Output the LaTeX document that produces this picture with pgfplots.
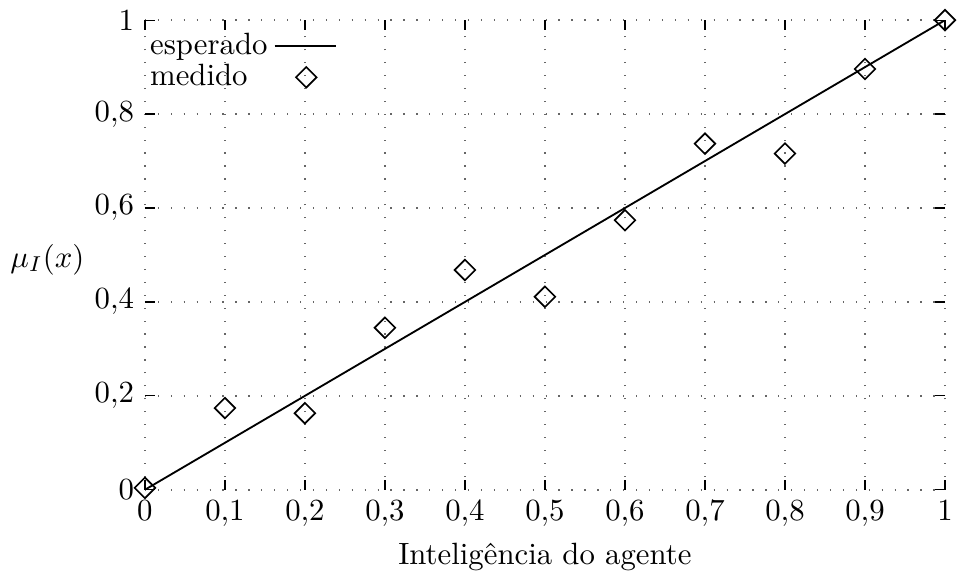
\documentclass[border=0pt]{standalone}
\usepackage{pgfplots}
\pgfplotsset{compat=1.18}
\begin{document}
\begin{tikzpicture}
\begin{axis}[
  scale only axis,
  width=260pt, height=152.6pt,
  xmin=0, xmax=1, ymin=0, ymax=1,
  xtick={0,0.1,...,1.01},
  ytick={0,0.2,...,1.01},
  /pgf/number format/use comma,
  xticklabel style={inner xsep=1.4pt, /pgf/number format/.cd,fixed,precision=1},
  yticklabel style={/pgf/number format/.cd,fixed,precision=1},
  separate axis lines,
  axis line style={draw=none},
  tick align=inside,
  major tick length=3.2pt,
  tick style={black, line width=0.4pt},
  grid=major,
  grid style={black!60, line width=0.5pt, dash pattern=on 0.4pt off 3.8pt},
  xlabel={Inteligência do agente},
  xlabel style={yshift=1.4pt},
  ylabel={$\mu_I(x)$},
  ylabel style={rotate=-90, at={(axis description cs:-0.062,0.49)}, anchor=east},
  legend plot pos=right,
  legend cell align=left,
  legend style={draw=none, fill=none, at={(0.0,1.0)}, xshift=-1.5pt, yshift=-1pt, anchor=north west, row sep=-2.3pt, inner sep=1pt},
]
\addplot[black, line width=0.6pt, legend image code/.code={\draw[black,line width=0.6pt] (-3.3pt,0pt) -- (16.7pt,0pt);}] coordinates {(0,0) (1,1)};
\addlegendentry{esperado}
\addplot[only marks, mark=square, mark size=2.36pt, mark options={rotate=45, black, line width=0.55pt, fill=none}, legend image code/.code={\draw[mark=square, mark size=2.36pt, mark options={rotate=45, line width=0.55pt}] plot coordinates {(7pt,0pt)};}] coordinates {
(0,0.004) (0.1,0.174) (0.2,0.163) (0.3,0.345) (0.4,0.468) (0.5,0.411)
(0.6,0.574) (0.7,0.737) (0.8,0.716) (0.9,0.896) (1.0,1.0)};
\addlegendentry{medido}
\end{axis}
\end{tikzpicture}
\end{document}
